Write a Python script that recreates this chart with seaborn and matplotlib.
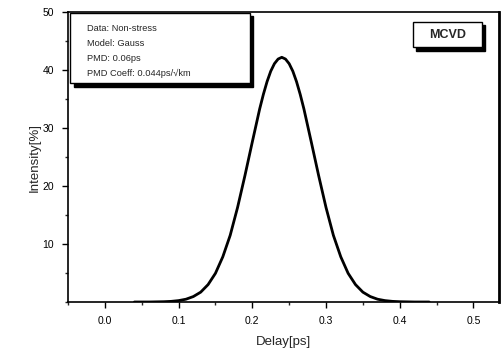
import numpy as np
import pandas as pd
import seaborn as sns
import matplotlib.pyplot as plt
from matplotlib.patches import Rectangle
from matplotlib.ticker import MultipleLocator

# delay [ps] and intensity [%]
delay = [0.04, 0.06, 0.08, 0.09, 0.10, 0.11, 0.12, 0.13, 0.14, 0.15, 0.16, 0.17,
         0.18, 0.19, 0.20, 0.21, 0.215, 0.22, 0.225, 0.23, 0.235, 0.24, 0.245,
         0.25, 0.255, 0.26, 0.265, 0.27, 0.28, 0.29, 0.30, 0.31, 0.32, 0.33,
         0.34, 0.35, 0.36, 0.37, 0.38, 0.39, 0.40, 0.42, 0.44]
intensity = [0.0, 0.0, 0.05, 0.11, 0.24, 0.48, 0.94, 1.7, 3.0, 4.95, 7.8, 11.5,
             16.3, 21.8, 27.6, 33.3, 35.8, 38.0, 39.8, 41.1, 41.9, 42.2, 41.9,
             41.1, 39.8, 38.0, 35.8, 33.3, 27.6, 21.8, 16.3, 11.5, 7.8, 4.95,
             3.0, 1.7, 0.94, 0.48, 0.24, 0.11, 0.05, 0.0, 0.0]

info_lines = ["Data: Non-stress", "Model: Gauss", "PMD: 0.06ps", "PMD Coeff: 0.044ps/\u221akm"]
sample = "MCVD"

df = pd.DataFrame({"Delay": delay, "Intensity": intensity})

sns.set_style("ticks")
plt.rcParams['font.family'] = ['Liberation Sans', 'DejaVu Sans']

fig = plt.figure(figsize=(5.02, 3.51), dpi=100)
ax = fig.add_axes([0.1355, 0.1396, 0.859, 0.826])

sns.lineplot(data=df, x="Delay", y="Intensity", color="black", linewidth=2, ax=ax)

ax.set_xlim(-0.05, 0.535)
ax.set_ylim(0, 50)
ax.xaxis.set_major_locator(MultipleLocator(0.1))
ax.xaxis.set_minor_locator(MultipleLocator(0.05))
ax.yaxis.set_major_locator(MultipleLocator(10))
ax.yaxis.set_minor_locator(MultipleLocator(5))
ax.set_yticks([10, 20, 30, 40, 50])
ax.set_xticks([0.0, 0.1, 0.2, 0.3, 0.4, 0.5])
ax.set_xticklabels(["0.0", "0.1", "0.2", "0.3", "0.4", "0.5"])
ax.tick_params(which="major", length=4, width=1, labelsize=7.5, colors="black", pad=6)
ax.tick_params(which="minor", length=2.5, width=1)
ax.set_xlabel("Delay[ps]", fontsize=9.5, labelpad=7)
ax.set_ylabel("Intensity[%]", fontsize=9.5, labelpad=1.5)

for side in ["left", "bottom", "top"]:
    ax.spines[side].set_linewidth(1.2)
    ax.spines[side].set_visible(True)
ax.spines["right"].set_visible(True)
ax.spines["right"].set_linewidth(2)
for s in ax.spines.values():
    s.set_color("black")

# info box with shadow
dx, dy = 0.008, 0.012
ax.add_patch(Rectangle((0.005 + dx, 0.755 - dy), 0.417, 0.242, transform=ax.transAxes,
                       facecolor="black", edgecolor="black", zorder=3, clip_on=False))
ax.add_patch(Rectangle((0.005, 0.755), 0.417, 0.242, transform=ax.transAxes,
                       facecolor="white", edgecolor="black", linewidth=1, zorder=4, clip_on=False))
for i, line in enumerate(info_lines):
    ax.text(0.045, 0.945 - i * 0.052, line, transform=ax.transAxes, fontsize=6.7,
            va="center", ha="left", zorder=5)

# sample label box
ax.add_patch(Rectangle((0.80 + dx, 0.879 - dy), 0.16, 0.087, transform=ax.transAxes,
                       facecolor="black", edgecolor="black", zorder=3))
ax.add_patch(Rectangle((0.80, 0.879), 0.16, 0.087, transform=ax.transAxes,
                       facecolor="white", edgecolor="black", linewidth=1, zorder=4))
ax.text(0.88, 0.922, sample, transform=ax.transAxes, fontsize=9, fontweight="bold",
        ha="center", va="center", zorder=5)

fig.savefig("out.png", dpi=100)
